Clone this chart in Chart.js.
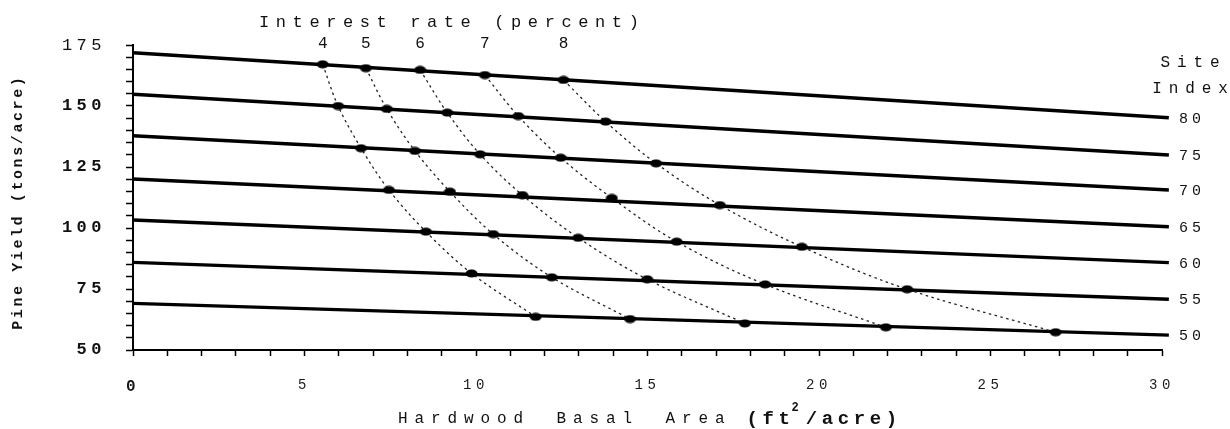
<!DOCTYPE html>
<html>
<head>
<meta charset="utf-8">
<title>Pine yield vs hardwood basal area</title>
<script src="https://cdn.jsdelivr.net/npm/chart.js@4.4.1/dist/chart.umd.min.js"></script>
<style>
  html, body { margin: 0; padding: 0; background: #fff; }
  #wrap { width: 1230px; height: 429px; }
</style>
</head>
<body>
<div id="wrap"><canvas id="chart" width="1230" height="429"></canvas></div>
<script>
const MONO = "'Liberation Mono', 'Courier New', 'DejaVu Sans Mono', monospace";
const SANS = "'Liberation Sans', Arial, sans-serif";

// Site index curves: pine yield at the two ends of the basal-area range
const siteIndex = [80, 75, 70, 65, 60, 55, 50];
const siteYieldStart = [171.8, 154.8, 137.8, 120.1, 103.3, 85.9, 69.1];
const siteYieldEnd = [145.2, 129.9, 115.6, 100.5, 85.8, 70.8, 56.1];
const basalStart = 0;
const basalEnd = 30.2;

// Optimal points for each interest rate, one per site index (80 down to 50)
const interestRates = ['4', '5', '6', '7', '8'];
const rate4Basal = [5.53, 5.98, 6.65, 7.46, 8.54, 9.87, 11.74];
const rate4Yield = [167.1, 150.0, 132.7, 115.6, 98.5, 81.4, 63.6];
const rate5Basal = [6.79, 7.40, 8.22, 9.24, 10.50, 12.21, 14.49];
const rate5Yield = [165.5, 148.8, 131.6, 114.9, 97.5, 79.8, 62.7];
const rate6Basal = [8.37, 9.16, 10.12, 11.35, 12.98, 14.99, 17.84];
const rate6Yield = [164.8, 147.3, 130.2, 113.5, 96.0, 79.0, 60.9];
const rate7Basal = [10.26, 11.23, 12.47, 13.96, 15.85, 18.43, 21.95];
const rate7Yield = [162.7, 145.9, 128.8, 112.3, 94.4, 76.9, 59.3];
const rate8Basal = [12.55, 13.78, 15.25, 17.11, 19.50, 22.57, 26.90];
const rate8Yield = [160.7, 143.6, 126.5, 109.4, 92.3, 74.9, 57.3];

// Axis tick labels
const xLabelValues = [0, 5, 10, 15, 20, 25, 30];
const yLabelValues = [50, 75, 100, 125, 150, 175];

const rateBasal = [rate4Basal, rate5Basal, rate6Basal, rate7Basal, rate8Basal];
const rateYield = [rate4Yield, rate5Yield, rate6Yield, rate7Yield, rate8Yield];

// Oval marker used for the optimum points
const dot = document.createElement('canvas');
dot.width = 13; dot.height = 9;
(function () {
  const d = dot.getContext('2d');
  d.fillStyle = '#000';
  d.beginPath();
  d.ellipse(6.5, 4.5, 6, 4, 0, 0, Math.PI * 2);
  d.fill();
})();

const datasets = [];
rateBasal.forEach((bx, i) => {
  datasets.push({
    label: 'Interest ' + interestRates[i] + '%',
    data: bx.map((x, j) => ({ x: x, y: rateYield[i][j] })),
    showLine: true,
    borderColor: '#222',
    borderWidth: 1.3,
    borderDash: [2.5, 3.5],
    tension: 0.35,
    pointStyle: dot,
    pointRadius: 5,
    pointHoverRadius: 5
  });
});
siteIndex.forEach((si, i) => {
  datasets.push({
    label: 'Site index ' + si,
    data: [{ x: basalStart, y: siteYieldStart[i] }, { x: basalEnd, y: siteYieldEnd[i] }],
    showLine: true,
    borderColor: '#000',
    borderWidth: 3.4,
    pointRadius: 0,
    clip: false
  });
});

function spacedWidth(ctx, text, spacing, wordGap) {
  let w = 0;
  for (let k = 0; k < text.length; k++) {
    w += ctx.measureText(text[k]).width;
    if (k < text.length - 1) w += spacing;
    if (text[k] === ' ') w += wordGap;
  }
  return w;
}
function drawSpaced(ctx, text, x, y, spacing, wordGap, align) {
  const w = spacedWidth(ctx, text, spacing, wordGap);
  let cx = align === 'center' ? x - w / 2 : (align === 'right' ? x - w : x);
  ctx.textAlign = 'left';
  for (let k = 0; k < text.length; k++) {
    ctx.fillText(text[k], cx, y);
    cx += ctx.measureText(text[k]).width + spacing;
    if (text[k] === ' ') cx += wordGap;
  }
  return cx;
}

const annotations = {
  id: 'annotations',
  beforeDraw(chart) {
    // wide letter spacing for the axis tick labels
    chart.ctx.letterSpacing = '4.5px';
  },
  afterDraw(chart) {
    const ctx = chart.ctx;
    const xs = chart.scales.x, ys = chart.scales.y, ca = chart.chartArea;
    ctx.save();
    ctx.letterSpacing = '0px';
    ctx.fillStyle = '#111';
    ctx.textBaseline = 'middle';

    // Interest rate heading and the rate labels above each curve
    ctx.font = '17px ' + MONO;
    drawSpaced(ctx, 'Interest rate (percent)', ca.left + 126, 22, 6.6, 0, 'left');
    ctx.font = '16px ' + MONO;
    interestRates.forEach((r, i) => {
      ctx.textAlign = 'center';
      ctx.fillText(r, xs.getPixelForValue(rateBasal[i][0]), ca.top - 1);
    });

    // Site index labels at the right end of each line
    ctx.font = '16px ' + MONO;
    drawSpaced(ctx, 'Site', ca.right + 28, 63, 6.9, 0, 'center');
    drawSpaced(ctx, 'Index', ca.right + 28, 89, 6.9, 0, 'center');
    ctx.font = '15px ' + MONO;
    siteIndex.forEach((si, i) => {
      drawSpaced(ctx, String(si), ca.right + 17, ys.getPixelForValue(siteYieldEnd[i]) + 1, 4, 0, 'left');
    });

    // Y axis title
    ctx.save();
    ctx.translate(18, (ca.top + ca.bottom) / 2 + 6);
    ctx.rotate(-Math.PI / 2);
    ctx.font = 'bold 15px ' + MONO;
    drawSpaced(ctx, 'Pine Yield (tons/acre)', 0, 0, 2.6, 0, 'center');
    ctx.restore();

    // X axis title: plain words followed by bold units with a superscript
    const plain = 'Hardwood Basal Area';
    const units = ['(', 'f', 't', '2', '/', 'a', 'c', 'r', 'e', ')'];
    ctx.font = '16px ' + MONO;
    const wPlain = spacedWidth(ctx, plain, 6.9, 10);
    ctx.font = 'bold 19px ' + MONO;
    const unitPitch = ctx.measureText('a').width + 4.6;
    const supPitch = unitPitch * 0.7;
    const wUnits = unitPitch * (units.length - 2) + supPitch + ctx.measureText(')').width;
    const gap = 22;
    const x0 = (ca.left + ca.right) / 2 - (wPlain + gap + wUnits) / 2;
    const ty = 419;
    ctx.font = '16px ' + MONO;
    drawSpaced(ctx, plain, x0, ty, 6.9, 10, 'left');
    let ux = x0 + wPlain + gap;
    units.forEach((ch, k) => {
      if (k === 3) {
        ctx.font = 'bold 12px ' + MONO;
        ctx.fillText(ch, ux - 3, ty - 11);
        ux += supPitch;
      } else {
        ctx.font = 'bold 19px ' + MONO;
        ctx.fillText(ch, ux, ty);
        ux += unitPitch;
      }
    });
    ctx.restore();
  }
};

new Chart(document.getElementById('chart'), {
  type: 'scatter',
  data: { datasets: datasets },
  plugins: [annotations],
  options: {
    responsive: false,
    devicePixelRatio: 1,
    animation: false,
    events: [],
    layout: { padding: { top: 45, right: 68, left: 0, bottom: 0 } },
    plugins: { legend: { display: false }, tooltip: { enabled: false } },
    scales: {
      x: {
        type: 'linear',
        min: 0,
        max: 30,
        afterFit: (s) => { s.height = 79; },
        border: { display: true, color: '#000', width: 2 },
        grid: { drawOnChartArea: false, drawTicks: true, tickLength: 6, tickColor: '#000', tickWidth: 1.5 },
        ticks: {
          stepSize: 1,
          autoSkip: false,
          maxRotation: 0,
          padding: 21,
          color: '#1a1a1a',
          callback: (v) => xLabelValues.includes(v) ? String(v) : '',
          font: (c) => {
            const v = c.tick ? c.tick.value : null;
            if (v === 0) return { family: MONO, size: 16, weight: 'bold' };
            if (v === 5) return { family: SANS, size: 14, weight: 'normal' };
            return { family: MONO, size: 14, weight: 'normal' };
          }
        }
      },
      y: {
        type: 'linear',
        min: 50,
        max: 175,
        afterFit: (s) => { s.width = 133; },
        border: { display: true, color: '#000', width: 2 },
        grid: { drawOnChartArea: false, drawTicks: true, tickLength: 7, tickColor: '#000', tickWidth: 1.5 },
        ticks: {
          stepSize: 5,
          autoSkip: false,
          padding: 20,
          color: '#111',
          callback: (v) => yLabelValues.includes(v) ? String(v) : '',
          font: (c) => {
            const v = c.tick ? c.tick.value : null;
            return { family: MONO, size: 17, weight: v === 175 ? 'normal' : 'bold' };
          }
        }
      }
    }
  }
});
</script>
</body>
</html>
